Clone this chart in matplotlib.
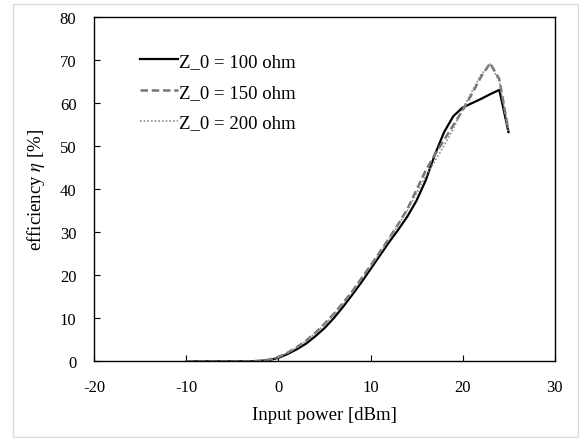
import matplotlib
matplotlib.use('Agg')
import matplotlib.pyplot as plt
from matplotlib.patches import Rectangle

plt.rcParams['font.family'] = ['Liberation Serif', 'DejaVu Serif']
plt.rcParams['mathtext.fontset'] = 'stix'
plt.rcParams['axes.unicode_minus'] = False

# input power sweep [dBm]
p_in = [-10, -9, -8, -7, -6, -5, -4, -3, -2, -1, 0, 1, 2, 3, 4, 5, 6, 7, 8,
        9, 10, 11, 12, 13, 14, 15, 16, 17, 18, 19, 20, 21, 22, 23, 24, 25]

# efficiency [%] for each line impedance
eff_100 = [0, 0, 0, 0, 0, 0, 0, 0, 0.1, 0.3, 0.8, 1.7, 2.8, 4.1, 5.8, 7.7,
           10.0, 12.6, 15.4, 18.3, 21.4, 24.5, 27.6, 30.5, 33.6, 37.3, 42.0,
           48.0, 53.2, 56.9, 58.9, 59.9, 60.9, 62.0, 63.0, 53.2]
eff_150 = [0, 0, 0, 0, 0, 0, 0, 0, 0.1, 0.4, 1.0, 2.0, 3.3, 4.8, 6.6, 8.7,
           11.0, 13.5, 16.2, 19.2, 22.2, 25.3, 28.5, 31.8, 35.3, 39.8, 44.3,
           48.0, 51.4, 54.8, 58.2, 62.0, 66.0, 69.2, 65.5, 53.5]
eff_200 = [0, 0, 0, 0, 0, 0, 0, 0, 0.1, 0.4, 1.0, 2.0, 3.2, 4.7, 6.5, 8.5,
           10.8, 13.3, 16.0, 19.0, 22.0, 25.1, 28.3, 31.6, 35.0, 39.0, 43.0,
           46.5, 50.0, 54.0, 58.5, 62.5, 66.5, 69.0, 65.0, 53.5]

fig = plt.figure(figsize=(5.79, 4.39), dpi=100)
ax = fig.add_axes([0.1632, 0.1747, 0.7945, 0.785])

# light border around the whole chart area
fig.patches.append(Rectangle((13 / 579, 1 / 439), 565 / 579, 433 / 439,
                             transform=fig.transFigure, fill=False,
                             edgecolor='#d9d9d9', lw=1.0))

ax.plot(p_in, eff_100, color='black', lw=1.6, label='Z_0 = 100 ohm')
ax.plot(p_in, eff_150, color='#767676', lw=1.8, ls=(0, (3, 1.5)),
        label='Z_0 = 150 ohm')
ax.plot(p_in, eff_200, color='#8c8c8c', lw=1.2, ls=(0, (1, 1.2)),
        label='Z_0 = 200 ohm')

ax.set_xlim(-20, 30)
ax.set_ylim(0, 80)
ax.set_xticks(range(-20, 31, 10))
ax.set_yticks(range(0, 81, 10))
ax.tick_params(direction='in', length=4, width=0.8, labelsize=12, pad=13)
for s in ax.spines.values():
    s.set_linewidth(1.0)

ax.set_xlabel('Input power [dBm]', fontsize=13.5, labelpad=8)
ax.set_ylabel(r'efficiency $\eta$ [%]', fontsize=13.5, labelpad=9)

ax.legend(loc='upper left', bbox_to_anchor=(0.099, 0.895), frameon=False,
          fontsize=13.5, handlelength=2.0, handletextpad=0.1,
          borderpad=0, borderaxespad=0, labelspacing=0.72)

fig.savefig('out.png', dpi=100)
